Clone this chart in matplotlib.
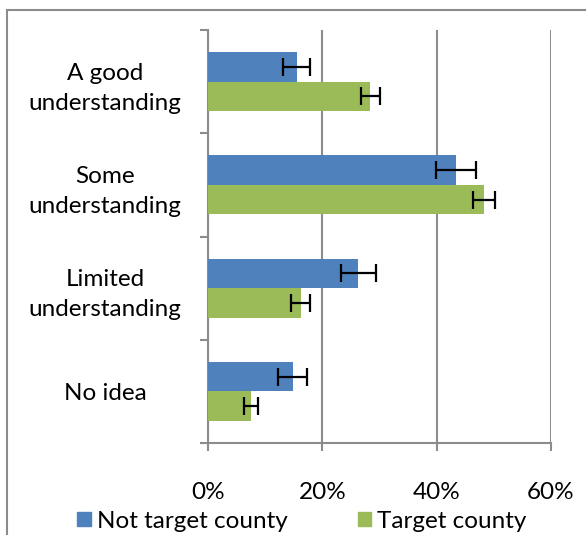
import matplotlib
matplotlib.use('Agg')
from matplotlib import pyplot as plt
from matplotlib.patches import Rectangle, Patch

plt.rcParams['font.family'] = ['Lato', 'DejaVu Sans']

categories = ['A good\nunderstanding', 'Some\nunderstanding', 'Limited\nunderstanding', 'No idea']
not_target = [15.5, 43.4, 26.3, 14.8]
not_target_err = [2.3, 3.5, 3.1, 2.6]
target = [28.4, 48.3, 16.2, 7.5]
target_err = [1.6, 1.9, 1.6, 1.25]
x_ticks = [0, 20, 40, 60]
x_ticklabels = ['0%', '20%', '40%', '60%']

blue = '#4F81BD'
green = '#9BBB59'
grey = '#8C8C8C'

fig = plt.figure(figsize=(5.86, 5.35), dpi=100)
ax = fig.add_axes([208 / 586, 1 - 443 / 535, (551 - 208) / 586, (443 - 30) / 535])

pos = list(range(len(categories)))
h = 0.285
err_kw = dict(ecolor='black', elinewidth=1.6, capsize=6.5, capthick=1.6)
ax.barh([p - h / 2 for p in pos], not_target, height=h, color=blue,
        xerr=not_target_err, error_kw=err_kw, label='Not target county', zorder=3)
ax.barh([p + h / 2 for p in pos], target, height=h, color=green,
        xerr=target_err, error_kw=err_kw, label='Target county', zorder=3)

ax.set_ylim(3.5, -0.5)
ax.set_xlim(0, 60)

# category boundaries as major ticks, labels on minor ticks
ax.set_yticks([-0.5, 0.5, 1.5, 2.5, 3.5])
ax.set_yticklabels([])
ax.set_yticks(pos, minor=True)
ax.set_yticklabels(categories, minor=True, ha='center', fontsize=17.5, linespacing=1.55)
ax.tick_params(axis='y', which='major', length=6, color=grey, width=1.5)
ax.tick_params(axis='y', which='minor', length=0, pad=74)

ax.set_xticks(x_ticks)
ax.set_xticklabels(x_ticklabels, fontsize=17.5)
ax.tick_params(axis='x', length=6, color=grey, width=1.5, pad=22)

ax.grid(axis='x', color=grey, linewidth=1.5, zorder=0)
for s in ['top', 'right']:
    ax.spines[s].set_visible(False)
for s in ['left', 'bottom']:
    ax.spines[s].set_color(grey)
    ax.spines[s].set_linewidth(1.5)

# outer chart border
fig.patches.append(Rectangle((7 / 586, -0.2), 1.2, 1.2 - 10 / 535,
                             transform=fig.transFigure, fill=False,
                             edgecolor=grey, linewidth=1.5))

handles = [Patch(color=blue), Patch(color=green)]
fig.legend(handles, ['Not target county', 'Target county'], loc='center',
           bbox_to_anchor=(302 / 586, 1 - 521 / 535), ncol=2, frameon=False,
           fontsize=17.5, handlelength=0.55, handleheight=0.55, handletextpad=0.25,
           columnspacing=2.9, borderpad=0)

fig.savefig('out.png', dpi=100)
